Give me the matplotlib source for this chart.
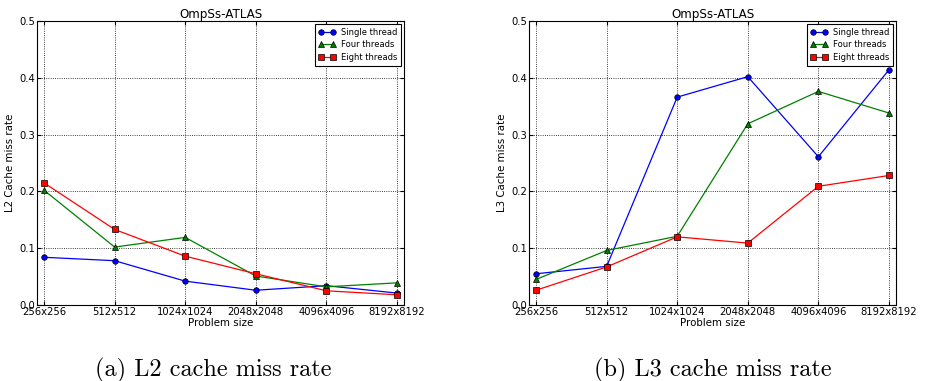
# -*- coding: utf-8 -*-
import matplotlib
matplotlib.use('Agg')
import matplotlib.pyplot as plt

# Problem sizes on the x axis
tamanhos = ['256x256', '512x512', '1024x1024', '2048x2048', '4096x4096', '8192x8192']

# L2 cache miss rate
l2_single = [0.084, 0.078, 0.042, 0.026, 0.034, 0.021]
l2_four = [0.202, 0.102, 0.119, 0.051, 0.032, 0.039]
l2_eight = [0.215, 0.133, 0.086, 0.055, 0.025, 0.018]

# L3 cache miss rate
l3_single = [0.055, 0.068, 0.366, 0.402, 0.261, 0.414]
l3_four = [0.045, 0.096, 0.121, 0.319, 0.376, 0.338]
l3_eight = [0.026, 0.067, 0.120, 0.109, 0.209, 0.228]

legendas = ['Single thread', 'Four threads', 'Eight threads']
legendas_fig = ['(a) L2 cache miss rate', '(b) L3 cache miss rate']


def desenha(ax, series, ylabel):
    x = range(len(tamanhos))
    estilos = [('b', 'o'), ('g', '^'), ('r', 's')]
    for valores, (cor, marca), nome in zip(series, estilos, legendas):
        ax.plot(x, valores, color=cor, marker=marca, markersize=4,
                markeredgecolor='k', markeredgewidth=0.5, linewidth=0.9,
                label=nome)
    ax.set_xlim(-0.1, 5.1)
    ax.set_ylim(0, 0.5)
    ax.set_xticks(list(x))
    ax.set_xticklabels(tamanhos)
    ax.set_yticks([0.0, 0.1, 0.2, 0.3, 0.4, 0.5])
    ax.tick_params(direction='in', top=True, right=True, labelsize=7.2,
                   length=3, pad=1.5)
    ax.grid(True, color='k', linestyle=':', linewidth=0.6)
    ax.set_title('OmpSs-ATLAS', fontsize=8.6, pad=2)
    ax.set_xlabel('Problem size', fontsize=7.4, labelpad=0.5)
    ax.set_ylabel(ylabel, fontsize=7.4, labelpad=3)
    leg = ax.legend(loc='upper right', fontsize=6, numpoints=2,
                    fancybox=False, framealpha=1, borderpad=0.45,
                    handlelength=2.0, handletextpad=0.7, labelspacing=0.45,
                    borderaxespad=0.35)
    leg.get_frame().set_edgecolor('k')
    leg.get_frame().set_linewidth(0.8)


fig = plt.figure(figsize=(9.25, 3.81), dpi=100)
ax1 = fig.add_axes([37 / 925, 1 - 305 / 381, 367 / 925, 284 / 381])
ax2 = fig.add_axes([529 / 925, 1 - 305 / 381, 367 / 925, 284 / 381])

desenha(ax1, [l2_single, l2_four, l2_eight], 'L2 Cache miss rate')
desenha(ax2, [l3_single, l3_four, l3_eight], 'L3 Cache miss rate')

fig.text(213 / 925, 1 - 376 / 381, legendas_fig[0], ha='center', va='baseline',
         fontsize=17.5, family='cmr10')
fig.text(713 / 925, 1 - 376 / 381, legendas_fig[1], ha='center', va='baseline',
         fontsize=17.5, family='cmr10')

fig.savefig('out.png', dpi=100)
